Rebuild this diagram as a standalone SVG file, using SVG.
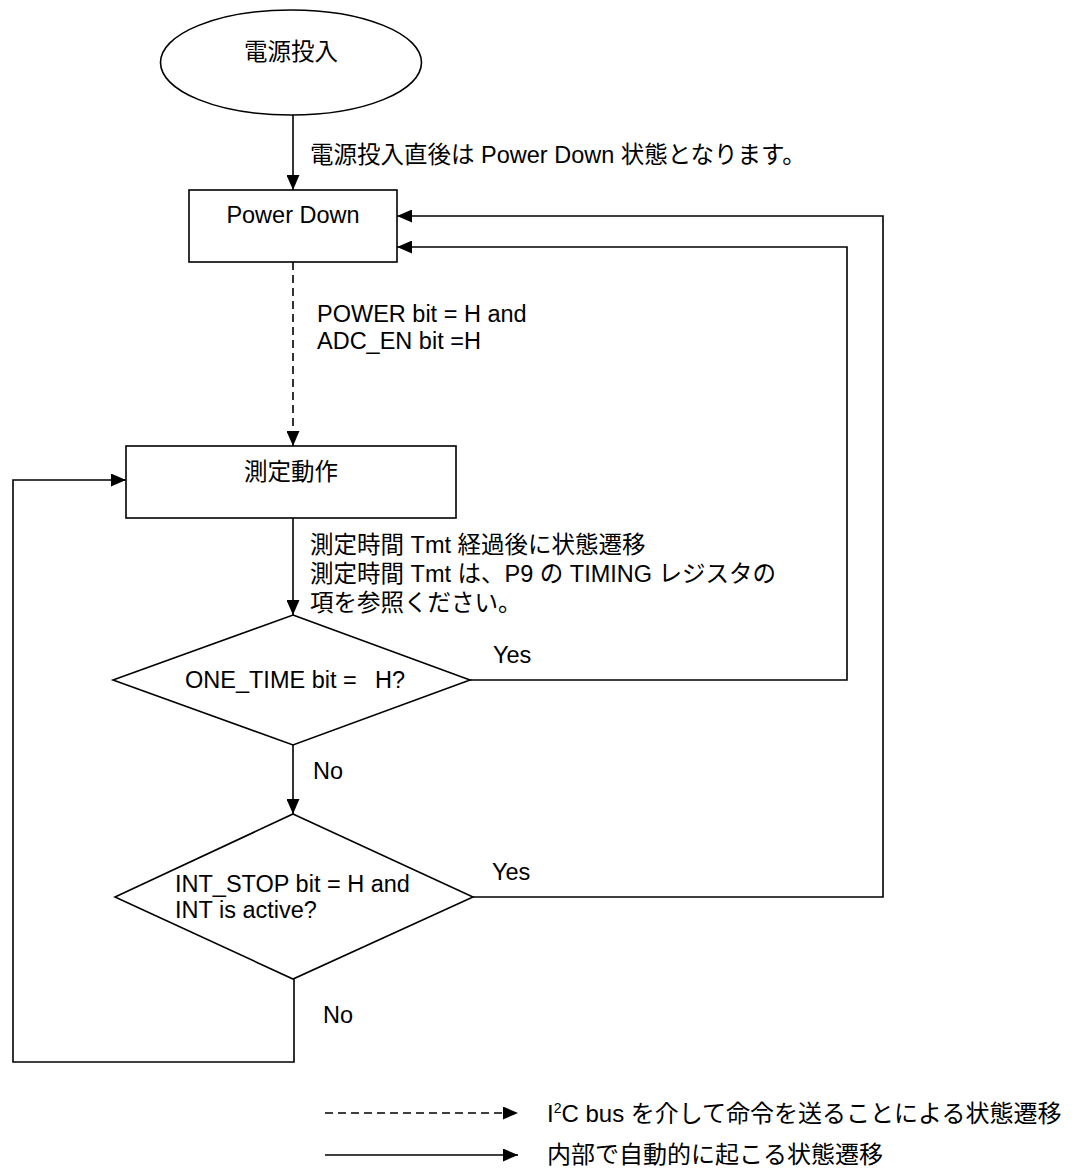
<svg xmlns="http://www.w3.org/2000/svg" width="1077" height="1171" viewBox="0 0 1077 1171">
<style>
  text { font-family: "Liberation Sans", "Noto Sans CJK JP", sans-serif; font-size: 23.5px; fill: #000; }
  .legend text { font-size: 24px; }
  .shape { fill: #fff; stroke: #000; stroke-width: 1.6; }
  .conn { fill: none; stroke: #000; stroke-width: 1.6; }
  .dash { stroke-dasharray: 8 5; }
  .mid { text-anchor: middle; }
</style>
<defs>
  <marker id="ah" viewBox="0 0 15 13" refX="15" refY="6.5" markerWidth="15" markerHeight="13" markerUnits="userSpaceOnUse" orient="auto">
    <path d="M0,0 L15,6.5 L0,13 z" fill="#000"/>
  </marker>
</defs>
<rect width="1077" height="1171" fill="#fff"/>

<g id="connectors">
  <line class="conn" x1="293" y1="115" x2="293" y2="190" marker-end="url(#ah)"/>
  <line class="conn dash" x1="293" y1="262" x2="293" y2="446" marker-end="url(#ah)"/>
  <line class="conn" x1="293" y1="518" x2="293" y2="615" marker-end="url(#ah)"/>
  <line class="conn" x1="293" y1="745" x2="293" y2="814" marker-end="url(#ah)"/>
  <polyline class="conn" points="470,680 847,680 847,247 397,247" marker-end="url(#ah)"/>
  <polyline class="conn" points="473,897 883,897 883,216 397,216" marker-end="url(#ah)"/>
  <polyline class="conn" points="294,979 294,1062 13,1062 13,480 126,480" marker-end="url(#ah)"/>
</g>

<g id="labels">
  <text x="310" y="163">電源投入直後は Power Down 状態となります。</text>
  <text x="317" y="322">POWER bit = H and</text>
  <text x="317" y="349">ADC_EN bit =H</text>
  <text x="310" y="553">測定時間 Tmt 経過後に状態遷移</text>
  <text x="310" y="582">測定時間 Tmt は、P9 の TIMING レジスタの</text>
  <text x="310" y="611">項を参照ください。</text>
  <text x="493" y="663">Yes</text>
  <text x="313" y="779">No</text>
  <text x="492" y="880">Yes</text>
  <text x="323" y="1023">No</text>
</g>

<g id="node-power-on">
  <ellipse class="shape" cx="291" cy="62.5" rx="130.5" ry="52.5"/>
  <text class="mid" x="291" y="60">電源投入</text>
</g>

<g id="node-power-down">
  <rect class="shape" x="189" y="190" width="208" height="72"/>
  <text class="mid" x="293" y="223">Power Down</text>
</g>

<g id="node-measure">
  <rect class="shape" x="126" y="446" width="330" height="72"/>
  <text class="mid" x="291" y="480">測定動作</text>
</g>

<g id="node-one-time">
  <polygon class="shape" points="293,615 470,680 293,745 113,680"/>
  <text x="185" y="688">ONE_TIME bit = <tspan x="375">H?</tspan></text>
</g>

<g id="node-int-stop">
  <polygon class="shape" points="293,814 473,897 293,979 115,897"/>
  <text x="175" y="892">INT_STOP bit = H and</text>
  <text x="175" y="918">INT is active?</text>
</g>

<g id="legend" class="legend">
  <line class="conn dash" x1="325" y1="1113" x2="518" y2="1113" marker-end="url(#ah)"/>
  <text x="547" y="1122">I<tspan font-size="14" dy="-9">2</tspan><tspan dy="9">C bus を介して命令を送ることによる状態遷移</tspan></text>
  <line class="conn" x1="325" y1="1155" x2="518" y2="1155" marker-end="url(#ah)"/>
  <text x="547" y="1163">内部で自動的に起こる状態遷移</text>
</g>
</svg>
